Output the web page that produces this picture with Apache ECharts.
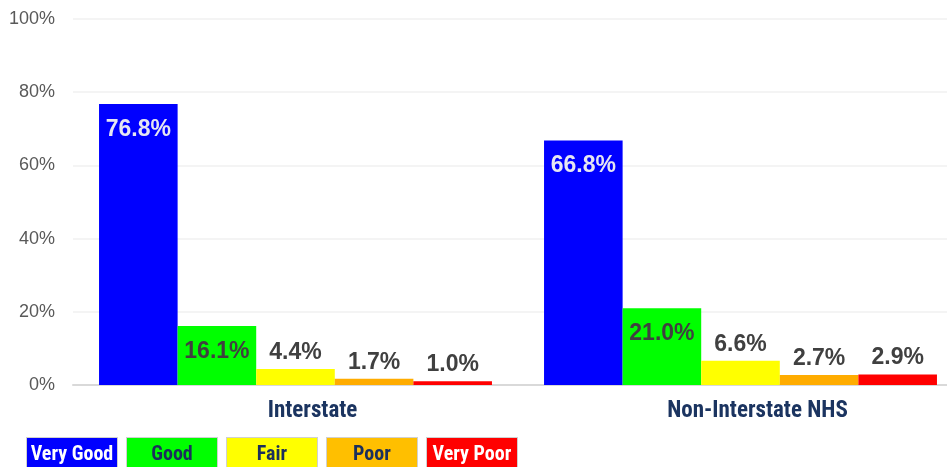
<!DOCTYPE html>
<html>
<head>
<meta charset="utf-8">
<script src="https://cdn.jsdelivr.net/npm/echarts@6/dist/echarts.min.js"></script>
<style>
  html, body { margin: 0; padding: 0; background: #ffffff; }
  #chart { width: 947px; height: 467px; }
</style>
</head>
<body>
<div id="chart"></div>
<script>
// Pavement condition share by road class
const categories = ['Interstate', 'Non-Interstate NHS'];
const veryGood = [76.8, 66.8];
const good = [16.1, 21.0];
const fair = [4.4, 6.6];
const poor = [1.7, 2.7];
const veryPoor = [1.0, 2.9];
const yTicks = [0, 20, 40, 60, 80, 100];

const condensed = '"Roboto Condensed", "Open Sans Condensed", "DejaVu Sans Condensed", sans-serif';
const labelFont = '"Liberation Sans", Arial, sans-serif';

const seriesDefs = [
  { name: 'Very Good', values: veryGood, color: '#0000ff', legendBg: '#0000ff', legendText: '#ffffff', key: 'vg' },
  { name: 'Good', values: good, color: '#00ff00', legendBg: '#00ff00', legendText: '#1b2f5c', key: 'g' },
  { name: 'Fair', values: fair, color: '#ffff00', legendBg: '#ffff00', legendText: '#1b2f5c', key: 'f' },
  { name: 'Poor', values: poor, color: '#ffac00', legendBg: '#ffbf00', legendText: '#1b2f5c', key: 'p' },
  { name: 'Very Poor', values: veryPoor, color: '#ff0000', legendBg: '#ff0000', legendText: '#ffffff', key: 'vp' }
];

// Tall bars carry their label inside the top; short bars above it
function buildData(values, isBlue) {
  return values.map(v => {
    const inside = v > 10;
    return {
      value: v,
      label: inside
        ? { position: 'insideTop', distance: 14, color: isBlue ? '#e6e6f2' : '#404040' }
        : { position: 'top', distance: 5, color: '#404040' }
    };
  });
}

const legendRich = {};
seriesDefs.forEach(s => {
  legendRich[s.key] = {
    backgroundColor: s.legendBg,
    color: s.legendText,
    borderColor: '#d0d0d0',
    borderWidth: 1,
    width: 90,
    height: 34,
    lineHeight: 34,
    align: 'center',
    fontFamily: condensed,
    fontWeight: 'bold',
    fontSize: 20
  };
});

const chart = echarts.init(document.getElementById('chart'), null, { renderer: 'canvas' });

chart.setOption({
  animation: false,
  backgroundColor: '#ffffff',
  grid: { left: 73, top: 19, width: 890, height: 366, outerBoundsMode: 'none', containLabel: false },
  legend: {
    left: 22,
    top: 437,
    icon: 'none',
    itemWidth: 0,
    itemHeight: 0,
    itemGap: 4,
    padding: 0,
    selectedMode: false,
    data: seriesDefs.map(s => s.name),
    formatter: name => {
      const s = seriesDefs.find(d => d.name === name);
      return '{' + s.key + '|' + name + '}';
    },
    textStyle: { rich: legendRich }
  },
  xAxis: {
    type: 'category',
    data: categories,
    axisTick: { show: false },
    axisLine: { lineStyle: { color: '#d9d9d9', width: 2 } },
    axisLabel: {
      margin: 15,
      padding: [0, 0, 0, 34],
      color: '#1b3460',
      fontFamily: condensed,
      fontWeight: 'bold',
      fontSize: 23
    }
  },
  yAxis: {
    type: 'value',
    min: 0,
    max: 100,
    interval: 20,
    axisLine: { show: false },
    axisTick: { show: false },
    splitLine: { lineStyle: { color: '#f0f0f0', width: 1.5 } },
    axisLabel: {
      margin: 18,
      color: '#595959',
      fontFamily: labelFont,
      fontSize: 18,
      formatter: v => (yTicks.includes(v) ? v + '%' : '')
    }
  },
  series: seriesDefs.map((s, i) => ({
    name: s.name,
    type: 'bar',
    barGap: '0%',
    barCategoryGap: '11.7%',
    itemStyle: { color: s.color },
    label: {
      show: true,
      fontFamily: labelFont,
      fontWeight: 'bold',
      fontSize: 23,
      formatter: p => p.value.toFixed(1) + '%'
    },
    data: buildData(s.values, i === 0)
  }))
});
</script>
</body>
</html>
